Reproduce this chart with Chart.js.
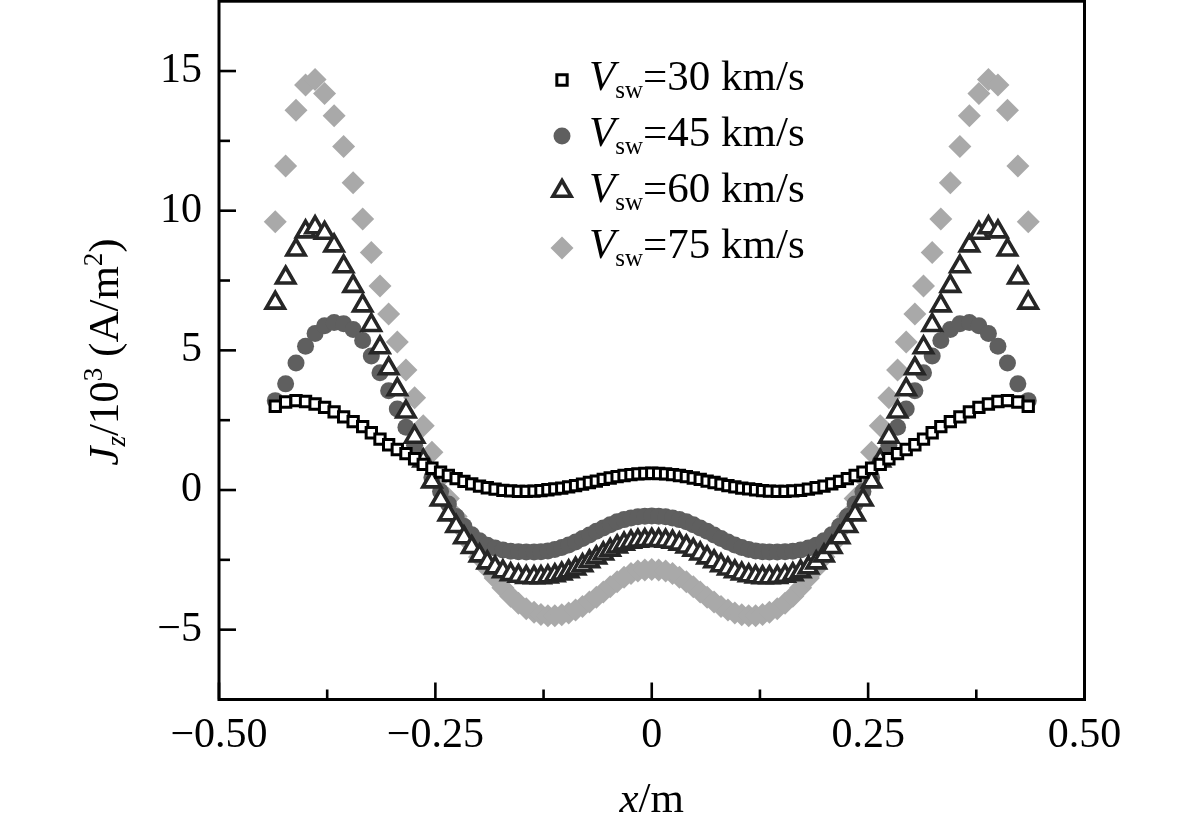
<!DOCTYPE html>
<html>
<head>
<meta charset="utf-8">
<script src="https://cdn.jsdelivr.net/npm/chart.js"></script>
<style>
html,body{margin:0;padding:0;background:#fff;}
#wrap{width:1181px;height:830px;position:relative;}
canvas{display:block;}
</style>
</head>
<body>
<div id="wrap"><canvas id="c" width="1181" height="830"></canvas></div>
<script>
// ---- data ----
const xValues = [-0.435,-0.423,-0.411,-0.400,-0.389,-0.378,-0.367,-0.356,-0.345,-0.334,-0.324,-0.314,-0.304,-0.294,-0.284,-0.274,-0.264,-0.254,-0.244,-0.235,-0.226,-0.217,-0.208,-0.199,-0.190,-0.181,-0.172,-0.163,-0.154,-0.145,-0.136,-0.128,-0.120,-0.112,-0.104,-0.096,-0.088,-0.080,-0.072,-0.064,-0.056,-0.048,-0.040,-0.032,-0.024,-0.016,-0.008,0,
0.008,0.016,0.024,0.032,0.040,0.048,0.056,0.064,0.072,0.080,0.088,0.096,0.104,0.112,0.120,0.128,0.136,0.145,0.154,0.163,0.172,0.181,0.190,0.199,0.208,0.217,0.226,0.235,0.244,0.254,0.264,0.274,0.284,0.294,0.304,0.314,0.324,0.334,0.345,0.356,0.367,0.378,0.389,0.400,0.411,0.423,0.435];

const jz30 = [3.0,3.15,3.2,3.17,3.08,2.96,2.8,2.62,2.45,2.27,2.05,1.82,1.62,1.45,1.3,1.12,0.92,0.78,0.64,0.52,0.41,0.31,0.22,0.14,0.08,0.03,-0.01,-0.03,-0.05,-0.05,-0.04,-0.02,0.01,0.04,0.07,0.11,0.16,0.21,0.27,0.32,0.38,0.43,0.48,0.52,0.55,0.58,0.59,
0.6,
0.59,0.58,0.55,0.52,0.48,0.43,0.38,0.32,0.27,0.21,0.16,0.11,0.07,0.04,0.01,-0.02,-0.04,-0.05,-0.05,-0.03,-0.01,0.03,0.08,0.14,0.22,0.31,0.41,0.52,0.64,0.78,0.92,1.12,1.3,1.45,1.62,1.82,2.05,2.27,2.45,2.62,2.8,2.96,3.08,3.17,3.2,3.15,3.0];

const jz45 = [3.2,3.8,4.55,5.15,5.6,5.88,6.0,5.95,5.75,5.35,4.8,4.2,3.55,2.9,2.25,1.6,1.0,0.45,-0.05,-0.5,-0.95,-1.3,-1.6,-1.82,-1.98,-2.08,-2.15,-2.19,-2.21,-2.22,-2.22,-2.21,-2.18,-2.13,-2.06,-1.97,-1.86,-1.74,-1.61,-1.48,-1.36,-1.24,-1.14,-1.06,-1.0,-0.96,-0.94,
-0.93,
-0.94,-0.96,-1.0,-1.06,-1.14,-1.24,-1.36,-1.48,-1.61,-1.74,-1.86,-1.97,-2.06,-2.13,-2.18,-2.21,-2.22,-2.22,-2.21,-2.19,-2.15,-2.08,-1.98,-1.82,-1.6,-1.3,-0.95,-0.5,-0.05,0.45,1.0,1.6,2.25,2.9,3.55,4.2,4.8,5.35,5.75,5.95,6.0,5.88,5.6,5.15,4.55,3.8,3.2];

const jz60 = [6.7,7.6,8.6,9.25,9.4,9.2,8.75,8.0,7.3,6.6,5.9,5.1,4.35,3.6,2.8,1.9,1.05,0.3,-0.35,-0.88,-1.3,-1.7,-2.05,-2.35,-2.6,-2.78,-2.92,-3.02,-3.08,-3.12,-3.13,-3.13,-3.1,-3.06,-3.0,-2.92,-2.82,-2.7,-2.56,-2.42,-2.28,-2.15,-2.03,-1.93,-1.86,-1.82,-1.8,
-1.79,
-1.8,-1.82,-1.86,-1.93,-2.03,-2.15,-2.28,-2.42,-2.56,-2.7,-2.82,-2.92,-3.0,-3.06,-3.1,-3.13,-3.13,-3.12,-3.08,-3.02,-2.92,-2.78,-2.6,-2.35,-2.05,-1.7,-1.3,-0.88,-0.35,0.3,1.05,1.9,2.8,3.6,4.35,5.1,5.9,6.6,7.3,8.0,8.75,9.2,9.4,9.25,8.6,7.6,6.7];

const jz75 = [9.6,11.6,13.6,14.5,14.7,14.2,13.4,12.3,11.0,9.7,8.5,7.3,6.3,5.3,4.3,3.3,2.3,1.35,0.45,-0.3,-0.95,-1.45,-1.95,-2.4,-2.8,-3.15,-3.5,-3.8,-4.05,-4.25,-4.38,-4.46,-4.5,-4.5,-4.47,-4.4,-4.3,-4.17,-4.01,-3.84,-3.65,-3.46,-3.28,-3.12,-2.99,-2.9,-2.86,
-2.85,
-2.86,-2.9,-2.99,-3.12,-3.28,-3.46,-3.65,-3.84,-4.01,-4.17,-4.3,-4.4,-4.47,-4.5,-4.5,-4.46,-4.38,-4.25,-4.05,-3.8,-3.5,-3.15,-2.8,-2.4,-1.95,-1.45,-0.95,-0.3,0.45,1.35,2.3,3.3,4.3,5.3,6.3,7.3,8.5,9.7,11.0,12.3,13.4,14.2,14.7,14.5,13.6,11.6,9.6];

const speeds = ['30','45','60','75'];
const xMajorTicks = [-0.5,-0.25,0,0.25,0.5];
const xTickLabels = ['\u22120.50','\u22120.25','0','0.25','0.50'];
const xMinorTicks = [-0.375,-0.125,0.125,0.375];
const yMajorTicks = [-5,0,5,10,15];
const yTickLabels = ['\u22125','0','5','10','15'];
const yMinorTicks = [-2.5,2.5,7.5,12.5];
const xRange = [-0.5,0.5];
const yRange = [-7.5,17.5];

// ---- styles ----
const FONT = '"Liberation Serif", "Times New Roman", serif';
const styles = [
  {pointStyle:'rect', radius:7.3, bg:'#ffffff', border:'#000000', bw:3, order:1},
  {pointStyle:'circle', radius:8.5, bg:'#5f5f5f', border:'#5f5f5f', bw:0, order:3},
  {pointStyle:'triangle', radius:10.5, bg:'#ffffff', border:'#262626', bw:3.6, order:2},
  {pointStyle:'rectRot', radius:11.5, bg:'#a9a9a9', border:'#a9a9a9', bw:0, order:4}
];
const seriesValues = [jz30, jz45, jz60, jz75];

const datasets = seriesValues.map((vals, k) => ({
  label: 'Vsw=' + speeds[k] + ' km/s',
  data: xValues.map((x, i) => ({x: x, y: vals[i]})),
  showLine: false,
  order: styles[k].order,
  pointStyle: styles[k].pointStyle,
  pointRadius: styles[k].radius,
  pointHoverRadius: styles[k].radius,
  pointBackgroundColor: styles[k].bg,
  pointBorderColor: styles[k].border,
  pointBorderWidth: styles[k].bw,
  backgroundColor: styles[k].bg,
  borderColor: styles[k].border
}));

function drawPieces(ctx, pieces, x, y, align) {
  let total = 0;
  pieces.forEach(p => { ctx.font = p.f; p.w = ctx.measureText(p.t).width; total += p.w; });
  let cx = align === 'center' ? x - total / 2 : x;
  pieces.forEach(p => {
    ctx.font = p.f;
    ctx.fillText(p.t, cx, y + (p.dy || 0));
    cx += p.w;
  });
}

const framePlugin = {
  id: 'frameTicks',
  afterDraw(chart) {
    const ctx = chart.ctx;
    const a = chart.chartArea;
    const xs = chart.scales.x, ys = chart.scales.y;
    ctx.save();
    ctx.strokeStyle = '#000';
    ctx.lineWidth = 2.6;
    ctx.lineCap = 'butt';
    const tick = (x1, y1, x2, y2) => { ctx.beginPath(); ctx.moveTo(x1, y1); ctx.lineTo(x2, y2); ctx.stroke(); };
    xMajorTicks.forEach(v => { const p = xs.getPixelForValue(v); tick(p, a.bottom, p, a.bottom - 17); });
    xMinorTicks.forEach(v => { const p = xs.getPixelForValue(v); tick(p, a.bottom, p, a.bottom - 10); });
    yMajorTicks.forEach(v => { const p = ys.getPixelForValue(v); tick(a.left, p, a.left + 17, p); });
    yMinorTicks.forEach(v => { const p = ys.getPixelForValue(v); tick(a.left, p, a.left + 11, p); });
    ctx.lineWidth = 3;
    ctx.strokeRect(a.left, a.top, a.right - a.left, a.bottom - a.top);

    ctx.fillStyle = '#000';
    ctx.textBaseline = 'alphabetic';
    drawPieces(ctx, [
      {t:'x', f:'italic 43px ' + FONT},
      {t:'/m', f:'43px ' + FONT}
    ], (a.left + a.right) / 2, 812, 'center');

    ctx.save();
    ctx.translate(118, 352);
    ctx.rotate(-Math.PI / 2);
    drawPieces(ctx, [
      {t:'J', f:'italic 43px ' + FONT},
      {t:'z', f:'italic 27px ' + FONT, dy:7},
      {t:'/10', f:'43px ' + FONT},
      {t:'3', f:'27px ' + FONT, dy:-16},
      {t:' (A/m', f:'43px ' + FONT},
      {t:'2', f:'27px ' + FONT, dy:-16},
      {t:')', f:'43px ' + FONT}
    ], 0, 0, 'center');
    ctx.restore();

    const rowBase = [90, 146, 202, 258];
    const markerY = [80, 136, 191, 248];
    seriesValues.forEach((vals, k) => {
      const st = styles[k];
      ctx.save();
      ctx.fillStyle = st.bg;
      ctx.strokeStyle = st.border;
      ctx.lineWidth = st.bw;
      if (Chart.helpers && Chart.helpers.drawPoint) {
        Chart.helpers.drawPoint(ctx, {pointStyle: st.pointStyle, radius: st.radius, borderWidth: st.bw, rotation: 0}, 562, markerY[k]);
      }
      ctx.restore();
      ctx.fillStyle = '#000';
      drawPieces(ctx, [
        {t:'V', f:'italic 43px ' + FONT},
        {t:'sw', f:'25px ' + FONT, dy:8},
        {t:'=' + speeds[k] + ' km/s', f:'43px ' + FONT}
      ], 589, rowBase[k], 'left');
    });
    ctx.restore();
  }
};

new Chart(document.getElementById('c'), {
  type: 'scatter',
  data: { datasets: datasets },
  options: {
    responsive: false,
    animation: false,
    devicePixelRatio: 1,
    events: [],
    layout: { autoPadding: false, padding: { left: 0, right: 96.5, top: 1.2, bottom: 0 } },
    plugins: { legend: { display: false }, tooltip: { enabled: false } },
    scales: {
      x: {
        type: 'linear', min: xRange[0], max: xRange[1],
        grid: { display: false, drawTicks: false },
        border: { display: false },
        afterFit(s) { s.height = 130.5; s.paddingLeft = 0; s.paddingRight = 0; },
        afterBuildTicks(s) { s.ticks = xMajorTicks.map(v => ({value: v})); },
        ticks: {
          autoSkip: false, maxRotation: 0, minRotation: 0, padding: 11,
          color: '#000', font: { family: FONT, size: 42 },
          callback: (v, i) => xTickLabels[i]
        }
      },
      y: {
        type: 'linear', min: yRange[0], max: yRange[1],
        grid: { display: false, drawTicks: false },
        border: { display: false },
        afterFit(s) { s.width = 219; s.paddingTop = 0; s.paddingBottom = 0; },
        afterBuildTicks(s) { s.ticks = yMajorTicks.map(v => ({value: v})); },
        ticks: {
          autoSkip: false, padding: 17,
          color: '#000', font: { family: FONT, size: 42 },
          callback: (v, i) => yTickLabels[i]
        }
      }
    }
  },
  plugins: [framePlugin]
});
</script>
</body>
</html>
